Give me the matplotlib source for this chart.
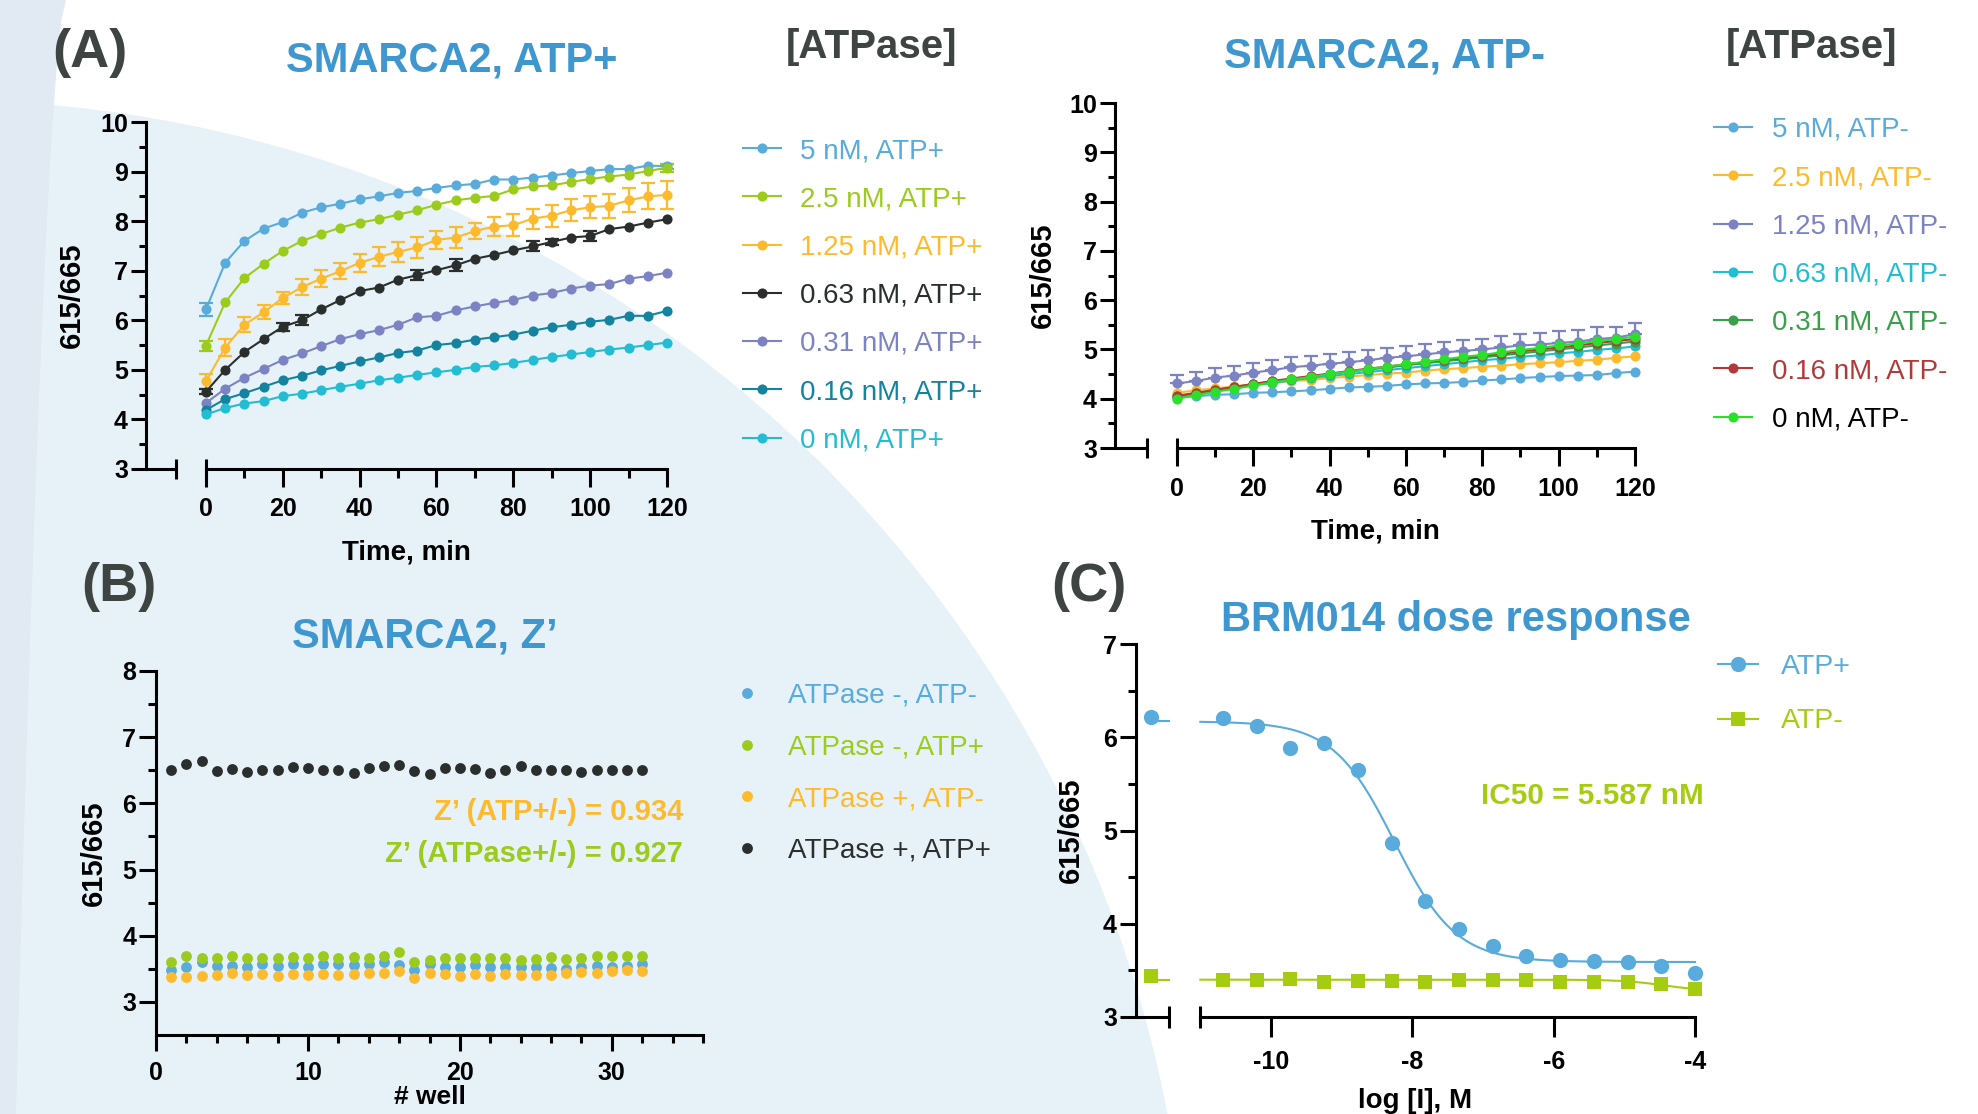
import numpy as np
import matplotlib
matplotlib.use("Agg")
import matplotlib.pyplot as plt
from matplotlib.patches import Circle, Polygon

plt.rcParams['font.family'] = ['Liberation Sans', 'DejaVu Sans']
plt.rcParams['font.weight'] = 'bold'
plt.rcParams['axes.unicode_minus'] = False

W, H = 1978, 1114

# ---------------- data ----------------
time_min = list(range(0, 125, 5))

# panel A, ATP+
plus_labels = ["5 nM, ATP+", "2.5 nM, ATP+", "1.25 nM, ATP+", "0.63 nM, ATP+",
               "0.31 nM, ATP+", "0.16 nM, ATP+", "0 nM, ATP+"]
plus_5 = [6.22, 7.16, 7.60, 7.85, 7.98, 8.17, 8.28, 8.35, 8.44, 8.50, 8.57, 8.61, 8.67,
          8.72, 8.75, 8.84, 8.84, 8.88, 8.92, 8.97, 9.01, 9.05, 9.05, 9.12, 9.11]
plus_25 = [5.49, 6.36, 6.85, 7.14, 7.40, 7.60, 7.74, 7.87, 7.97, 8.04, 8.13, 8.22, 8.33,
           8.42, 8.47, 8.51, 8.64, 8.70, 8.72, 8.79, 8.85, 8.90, 8.94, 9.01, 9.08]
plus_125 = [4.77, 5.45, 5.91, 6.16, 6.45, 6.67, 6.84, 6.99, 7.16, 7.28, 7.38, 7.47, 7.62,
            7.67, 7.80, 7.89, 7.92, 8.05, 8.11, 8.22, 8.28, 8.31, 8.42, 8.50, 8.53]
plus_063 = [4.56, 5.00, 5.36, 5.62, 5.87, 6.00, 6.22, 6.41, 6.59, 6.66, 6.82, 6.91, 7.01,
            7.11, 7.24, 7.32, 7.41, 7.49, 7.58, 7.67, 7.70, 7.84, 7.89, 7.97, 8.04]
plus_031 = [4.33, 4.62, 4.84, 5.02, 5.20, 5.33, 5.48, 5.62, 5.72, 5.80, 5.91, 6.06, 6.09,
            6.20, 6.28, 6.35, 6.41, 6.50, 6.55, 6.64, 6.70, 6.73, 6.84, 6.89, 6.96]
plus_016 = [4.19, 4.41, 4.53, 4.66, 4.79, 4.88, 4.99, 5.08, 5.17, 5.25, 5.34, 5.39, 5.50,
            5.54, 5.61, 5.66, 5.71, 5.79, 5.86, 5.91, 5.97, 6.01, 6.09, 6.09, 6.19]
plus_0 = [4.10, 4.23, 4.32, 4.37, 4.47, 4.52, 4.59, 4.66, 4.72, 4.79, 4.84, 4.90, 4.95,
          5.00, 5.06, 5.09, 5.14, 5.20, 5.26, 5.31, 5.36, 5.41, 5.45, 5.50, 5.55]
err_plus_5 = [0.13, 0, 0, 0, 0, 0, 0, 0, 0, 0, 0, 0, 0, 0, 0, 0, 0, 0, 0, 0, 0, 0, 0, 0, 0.05]
err_plus_25 = [0.10, 0, 0, 0, 0, 0, 0, 0, 0, 0, 0, 0, 0, 0, 0, 0, 0, 0, 0, 0, 0, 0, 0, 0, 0.08]
err_plus_125 = [0.15, 0.18, 0.15, 0.14, 0.13, 0.16, 0.17, 0.16, 0.18, 0.19, 0.20, 0.22, 0.19,
                0.22, 0.16, 0.19, 0.22, 0.20, 0.22, 0.22, 0.22, 0.24, 0.24, 0.26, 0.28]
err_plus_063 = [0.05, 0, 0, 0, 0.08, 0.10, 0, 0, 0, 0, 0, 0.10, 0, 0.12, 0, 0, 0, 0.10,
                0.06, 0, 0.10, 0, 0, 0, 0]

# panel A, ATP-
minus_labels = ["5 nM, ATP-", "2.5 nM, ATP-", "1.25 nM, ATP-", "0.63 nM, ATP-",
                "0.31 nM, ATP-", "0.16 nM, ATP-", "0 nM, ATP-"]
minus_5 = [4.02, 4.05, 4.08, 4.09, 4.12, 4.13, 4.15, 4.17, 4.20, 4.23, 4.24, 4.26, 4.29,
           4.31, 4.32, 4.34, 4.37, 4.39, 4.42, 4.44, 4.46, 4.47, 4.48, 4.52, 4.55]
minus_25 = [4.12, 4.17, 4.21, 4.25, 4.29, 4.32, 4.36, 4.38, 4.42, 4.45, 4.48, 4.51, 4.53,
            4.57, 4.60, 4.62, 4.65, 4.67, 4.70, 4.72, 4.74, 4.77, 4.79, 4.83, 4.86]
minus_125 = [4.31, 4.36, 4.43, 4.47, 4.53, 4.58, 4.64, 4.67, 4.71, 4.74, 4.78, 4.83, 4.86,
             4.90, 4.94, 4.97, 5.00, 5.04, 5.08, 5.10, 5.13, 5.16, 5.21, 5.24, 5.31]
minus_063 = [4.04, 4.10, 4.16, 4.21, 4.27, 4.32, 4.37, 4.42, 4.46, 4.50, 4.54, 4.58, 4.62,
             4.66, 4.70, 4.74, 4.78, 4.81, 4.85, 4.88, 4.92, 4.95, 4.99, 5.02, 5.06]
minus_031 = [4.05, 4.11, 4.17, 4.23, 4.29, 4.35, 4.40, 4.45, 4.50, 4.55, 4.59, 4.63, 4.68,
             4.72, 4.76, 4.80, 4.84, 4.88, 4.92, 4.96, 5.00, 5.04, 5.08, 5.12, 5.16]
minus_016 = [4.06, 4.12, 4.18, 4.24, 4.30, 4.36, 4.41, 4.46, 4.51, 4.56, 4.61, 4.65, 4.70,
             4.74, 4.79, 4.83, 4.87, 4.91, 4.96, 5.00, 5.04, 5.08, 5.13, 5.17, 5.21]
minus_0 = [4.00, 4.07, 4.14, 4.20, 4.27, 4.33, 4.39, 4.44, 4.50, 4.55, 4.60, 4.65, 4.70,
           4.75, 4.80, 4.85, 4.89, 4.94, 4.99, 5.03, 5.08, 5.12, 5.17, 5.21, 5.26]
err_minus_125 = [0.17, 0.18, 0.20, 0.19, 0.20, 0.20, 0.20, 0.20, 0.20, 0.20, 0.20, 0.20, 0.20,
                 0.22, 0.22, 0.22, 0.22, 0.23, 0.23, 0.24, 0.24, 0.24, 0.25, 0.22, 0.22]

# panel B, Z'
wells = list(range(1, 33))
z_labels = ["ATPase -, ATP-", "ATPase -, ATP+", "ATPase +, ATP-", "ATPase +, ATP+"]
z_neg_neg = [3.48, 3.53, 3.60, 3.54, 3.55, 3.53, 3.58, 3.54, 3.57, 3.53, 3.57, 3.57, 3.56,
             3.58, 3.60, 3.56, 3.48, 3.58, 3.53, 3.53, 3.56, 3.53, 3.53, 3.52, 3.52, 3.51,
             3.49, 3.52, 3.54, 3.53, 3.54, 3.58]
z_neg_pos = [3.61, 3.70, 3.66, 3.66, 3.70, 3.67, 3.67, 3.66, 3.68, 3.66, 3.70, 3.67, 3.68,
             3.67, 3.70, 3.75, 3.60, 3.63, 3.66, 3.66, 3.66, 3.66, 3.67, 3.63, 3.65, 3.68,
             3.65, 3.66, 3.70, 3.69, 3.70, 3.70]
z_pos_neg = [3.37, 3.38, 3.39, 3.41, 3.44, 3.41, 3.42, 3.39, 3.42, 3.41, 3.42, 3.41, 3.42,
             3.44, 3.44, 3.47, 3.36, 3.44, 3.42, 3.39, 3.42, 3.39, 3.42, 3.40, 3.40, 3.41,
             3.44, 3.45, 3.44, 3.46, 3.48, 3.47]
z_pos_pos = [6.50, 6.60, 6.64, 6.49, 6.52, 6.47, 6.51, 6.51, 6.55, 6.53, 6.51, 6.51, 6.46,
             6.53, 6.57, 6.58, 6.49, 6.44, 6.53, 6.53, 6.52, 6.46, 6.51, 6.56, 6.51, 6.51,
             6.50, 6.47, 6.50, 6.50, 6.50, 6.50]
z_text_1 = "Z’ (ATP+/-) = 0.934"
z_text_2 = "Z’ (ATPase+/-) = 0.927"

# panel C, dose response (log M, 3-fold dilutions)
log_inh = [-10.68, -10.20, -9.73, -9.25, -8.77, -8.29, -7.82, -7.34, -6.86, -6.39,
           -5.91, -5.43, -4.95, -4.48, -4.00]
resp_plus = [6.21, 6.12, 5.89, 5.94, 5.65, 4.87, 4.24, 3.94, 3.76, 3.65, 3.61, 3.60,
             3.59, 3.55, 3.47]
resp_minus = [3.40, 3.40, 3.41, 3.38, 3.39, 3.39, 3.37, 3.40, 3.40, 3.40, 3.38, 3.37,
              3.38, 3.35, 3.30]
ctrl_x = -11.70          # no-inhibitor control, drawn in the axis break
ctrl_plus = 6.22
ctrl_minus = 3.44
# 4PL fit parameters: top, bottom, logIC50, hill
fit_plus = (6.17, 3.59, np.log10(5.587e-9), 1.0)
fit_minus = (3.40, 3.28, -4.45, 1.5)
ic50_text = "IC50 = 5.587 nM"

# ---------------- colours ----------------
c_title = "#3F97CF"
c_gray = "#3E4442"
c_lblue = "#58ABDB"
c_lgreen = "#9BCB1C"
c_orange = "#FDBA2C"
c_dark = "#2A2E2D"
c_purple = "#7C83C3"
c_teal = "#13839F"
c_cyan = "#22BCD3"
c_green = "#3A9E4A"
c_red = "#B03A3A"
c_bgreen = "#2BE02B"
c_ygreen = "#A6CC12"

fig = plt.figure(figsize=(W / 100, H / 100), dpi=100)

# background shapes (pixel coordinates)
bg = fig.add_axes([0, 0, 1, 1], zorder=-10)
bg.set_xlim(0, W)
bg.set_ylim(H, 0)
bg.axis('off')
bg.add_patch(Circle((-60, 1350), 1250, color="#E7F2F8", lw=0))
sy = np.linspace(0, H, 60)
sx = 66 - 50 * (sy / H) ** 0.6
bg.add_patch(Polygon(np.column_stack([np.r_[sx, 0, 0], np.r_[sy, H, 0]]),
                     color="#E1EAF2", lw=0))


def rect(left, top, right, bottom):
    return [left / W, 1 - bottom / H, (right - left) / W, (bottom - top) / H]


def prism_axes(ax, xlim, ylim, xmaj, xmin, ymaj, ymin, xlen, ylen, xpad, ypad):
    ax.set_facecolor('none')
    for s in ['top', 'right']:
        ax.spines[s].set_visible(False)
    for s in ['left', 'bottom']:
        ax.spines[s].set_linewidth(2.2)
    ax.set_xlim(xlim)
    ax.set_ylim(ylim)
    ax.set_xticks(xmaj)
    ax.set_xticks(xmin, minor=True)
    ax.set_yticks(ymaj)
    ax.set_yticks(ymin, minor=True)
    ax.tick_params(axis='x', which='major', length=xlen, width=2.2, pad=xpad, labelsize=18)
    ax.tick_params(axis='x', which='minor', length=xlen / 2, width=2.2)
    ax.tick_params(axis='y', which='major', length=ylen, width=2.2, pad=ypad, labelsize=18)
    ax.tick_params(axis='y', which='minor', length=ylen / 2, width=2.2)


def axis_break(ax, stub_end, seg_start, cap_px):
    tr = ax.get_xaxis_transform()
    h_px = ax.get_position().height * H
    d = cap_px / h_px
    x0, x1 = ax.get_xlim()
    kw = dict(transform=tr, color='k', lw=2.2, clip_on=False, solid_capstyle='butt')
    ax.plot([x0, stub_end], [0, 0], **kw)
    ax.plot([stub_end, stub_end], [-d, d], **kw)
    ax.plot([seg_start, seg_start], [-d, d], **kw)
    ax.spines['bottom'].set_bounds(seg_start, x1)


def labels(ax, xlabel, xl_y, yl_x, xl_size=20):
    ax.set_xlabel(xlabel, fontsize=xl_size, fontweight='bold')
    ax.set_ylabel("615/665", fontsize=21, fontweight='bold')
    ax.xaxis.set_label_coords(0.5, xl_y)
    ax.yaxis.set_label_coords(yl_x, 0.5)


def put_legend(ax, x_px, top_px, fs, spacing, hlen, tpad, colors, handles=None, lbls=None):
    kw = dict(loc='upper left', bbox_to_anchor=(x_px / W, 1 - top_px / H),
              bbox_transform=fig.transFigure, frameon=False, prop={'size': fs, 'weight': 'normal'},
              borderpad=0, borderaxespad=0, labelspacing=spacing, handlelength=hlen,
              handletextpad=tpad, labelcolor=colors, numpoints=1)
    if handles is not None:
        return ax.legend(handles, lbls, **kw)
    return ax.legend(**kw)


def err_bars(ax, x, y, e, color, upper_only=False):
    x, y, e = np.array(x), np.array(y), np.array(e)
    m = e > 0
    lo = np.zeros(m.sum()) if upper_only else e[m]
    ax.errorbar(x[m], y[m], yerr=[lo, e[m]], fmt='none', ecolor=color, elinewidth=1.6,
                capsize=5, capthick=1.6, clip_on=False, zorder=2)


# ---------------- panel A, ATP+ ----------------
axA1 = fig.add_axes(rect(146, 122, 667, 469))
prism_axes(axA1, (-15.6, 120), (3, 10), range(0, 121, 20), range(10, 120, 20),
           range(3, 11), np.arange(3.5, 10, 1), 13, 10.8, 7.5, 2.2)
axis_break(axA1, -7.8, 0, 10)
plus_series = [plus_5, plus_25, plus_125, plus_063, plus_031, plus_016, plus_0]
plus_colors = [c_lblue, c_lgreen, c_orange, c_dark, c_purple, c_teal, c_cyan]
for vals, col, lab in zip(plus_series, plus_colors, plus_labels):
    axA1.plot(time_min, vals, '-o', color=col, lw=1.5, ms=7.3, mew=0, label=lab,
              clip_on=False, zorder=3)
for vals, e, col in [(plus_5, err_plus_5, c_lblue), (plus_25, err_plus_25, c_lgreen),
                     (plus_125, err_plus_125, c_orange), (plus_063, err_plus_063, c_dark)]:
    err_bars(axA1, time_min, vals, e, col)
labels(axA1, "Time, min", -0.204, -0.115)
put_legend(axA1, 743, 138, 20, 0.8, 1.37, 0.68, plus_colors)

# ---------------- panel A, ATP- ----------------
axA2 = fig.add_axes(rect(1115, 103, 1635, 448))
prism_axes(axA2, (-16.24, 120), (3, 10), range(0, 121, 20), range(10, 120, 20),
           range(3, 11), np.arange(3.5, 10, 1), 13, 10.8, 7.8, 2.2)
axis_break(axA2, -7.86, 0, 10)
minus_series = [minus_5, minus_25, minus_125, minus_063, minus_031, minus_016, minus_0]
minus_colors = [c_lblue, c_orange, c_purple, c_cyan, c_green, c_red, c_bgreen]
minus_text_colors = [c_lblue, c_orange, c_purple, c_cyan, c_green, c_red, 'black']
for vals, col, lab in zip(minus_series, minus_colors, minus_labels):
    axA2.plot(time_min, vals, '-o', color=col, lw=1.5, ms=7.3, mew=0, label=lab,
              clip_on=False, zorder=3)
err_bars(axA2, time_min, minus_125, err_minus_125, c_purple, upper_only=True)
labels(axA2, "Time, min", -0.205, -0.1115)
put_legend(axA2, 1714, 117, 20, 0.8, 1.37, 0.72, minus_text_colors)

# ---------------- panel B ----------------
axB = fig.add_axes(rect(156, 671, 703, 1035))
prism_axes(axB, (0, 36), (2.5, 8), [0, 10, 20, 30], range(0, 37, 2),
           range(3, 9), np.arange(3.5, 8, 1), 11.5, 12, 7, 2.2)
z_series = [z_neg_neg, z_neg_pos, z_pos_neg, z_pos_pos]
z_colors = [c_lblue, c_lgreen, c_orange, c_dark]
for vals, col, lab in zip(z_series, z_colors, z_labels):
    axB.plot(wells, vals, 'o', ls='none', color=col, ms=7.8, mew=0, label=lab, clip_on=False)
labels(axB, "# well", -0.136, -0.0878, xl_size=19)
put_legend(axB, 728, 683, 20, 0.92, 1.37, 0.8, z_colors)

# ---------------- panel C ----------------
axC = fig.add_axes(rect(1136, 644, 1695, 1017))
prism_axes(axC, (-11.91, -4), (3, 7), [-10, -8, -6, -4], [],
           range(3, 8), np.arange(3.5, 7, 1), 14.4, 11.5, 9.5, 2.2)
axis_break(axC, -11.45, -11.0, 11)


def four_pl(x, p):
    top, bottom, logic50, hill = p
    return bottom + (top - bottom) / (1 + 10 ** (hill * (x - logic50)))


xfit = np.linspace(-11.0, -4.0, 300)
handles = []
for resp, ctrl, p, col, mk, ms in [(resp_plus, ctrl_plus, fit_plus, c_lblue, 'o', 11),
                                   (resp_minus, ctrl_minus, fit_minus, c_ygreen, 's', 10.5)]:
    curve, = axC.plot(xfit, four_pl(xfit, p), color=col, lw=1.5, clip_on=False)
    axC.plot([ctrl_x, -11.45], [p[0], p[0]], color=col, lw=1.5, clip_on=False)
    pts, = axC.plot(log_inh, resp, mk, ls='none', color=col, ms=ms, mew=0, clip_on=False)
    axC.plot([ctrl_x], [ctrl], mk, color=col, ms=ms, mew=0, clip_on=False)
    handles.append((curve, pts))
labels(axC, "log [I], M", -0.19, -0.0912)
put_legend(axC, 1718, 654, 20.5, 1.0, 1.4, 0.8, [c_lblue, c_ygreen],
           handles=handles, lbls=["ATP+", "ATP-"])

# ---------------- texts ----------------
def ftext(x, y, s, **kw):
    fig.text(x / W, 1 - y / H, s, **kw)


for x, y, s in [(90, 53, "(A)"), (119, 587, "(B)"), (1089, 587, "(C)")]:
    ftext(x, y, s, fontsize=39, fontweight='bold', color=c_gray, ha='center', va='center')
for x in [872, 1811]:
    ftext(x, 47, "[ATPase]", fontsize=29, fontweight='bold', color=c_gray,
          ha='center', va='center')
for x, y, s in [(452, 71, "SMARCA2, ATP+"), (1384, 68, "SMARCA2, ATP-"),
                (425, 647, "SMARCA2, Z’"), (1456, 631, "BRM014 dose response")]:
    ftext(x, y, s, fontsize=30, fontweight='bold', color=c_title, ha='center', va='baseline')
ftext(683, 820, z_text_1, fontsize=21, fontweight='bold', color=c_orange, ha='right', va='baseline')
ftext(683, 862, z_text_2, fontsize=21, fontweight='bold', color=c_lgreen, ha='right', va='baseline')
ftext(1704, 804, ic50_text, fontsize=21.4, fontweight='bold', color=c_ygreen,
      ha='right', va='baseline')

fig.savefig("out.png", dpi=100)
